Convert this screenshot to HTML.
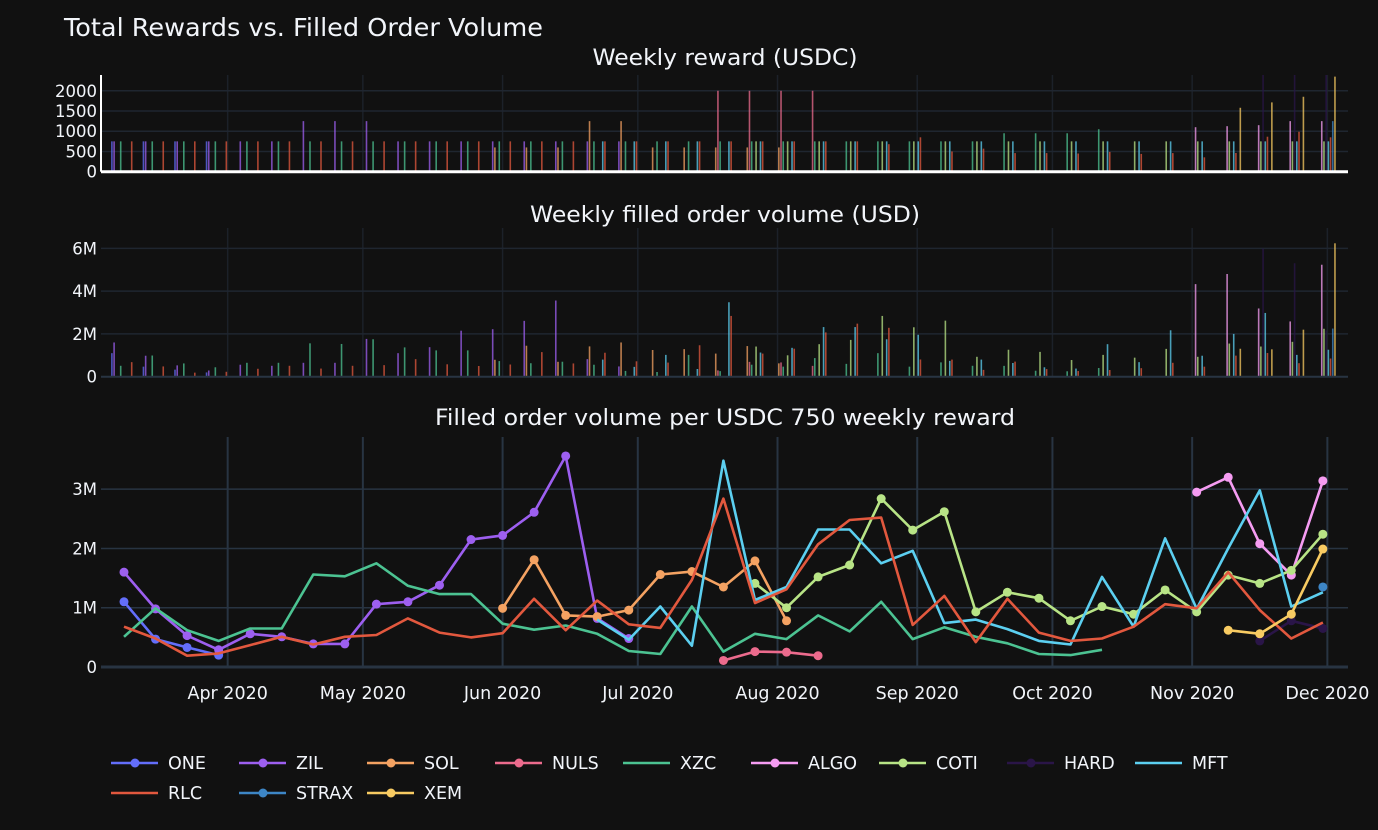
<!DOCTYPE html>
<html><head><meta charset="utf-8"><style>
html,body{margin:0;padding:0;background:#111111;}
svg{display:block;font-family:"DejaVu Sans","Liberation Sans",sans-serif;}
</style></head><body>
<svg id="chart" width="1378" height="830" xmlns="http://www.w3.org/2000/svg">
<rect width="1378" height="830" fill="#111111"/>
<text x="64" y="36" fill="#f2f5fa" font-size="25" textLength="479" lengthAdjust="spacingAndGlyphs">Total Rewards vs. Filled Order Volume</text>
<text x="725" y="65" fill="#f2f5fa" font-size="22" text-anchor="middle" textLength="265" lengthAdjust="spacingAndGlyphs">Weekly reward (USDC)</text>
<text x="725" y="222" fill="#f2f5fa" font-size="22" text-anchor="middle" textLength="390" lengthAdjust="spacingAndGlyphs">Weekly filled order volume (USD)</text>
<text x="725" y="425" fill="#f2f5fa" font-size="22" text-anchor="middle" textLength="580" lengthAdjust="spacingAndGlyphs">Filled order volume per USDC 750 weekly reward</text>
<g id="g"></g>
</svg>
<script>
const names=["ONE","ZIL","SOL","NULS","XZC","ALGO","COTI","HARD","MFT","RLC","STRAX","XEM"];
const colors=["#636efa","#9d5ff0","#f4a262","#ec6b8d","#4cc392","#f59cf2","#b8e486","#2a1548","#5ccff0","#e2583e","#3d86c6","#f8cb62"];
const hasMarker=[1,1,1,1,0,1,1,1,0,0,1,1];
const N=null;
// ratio values (M USD per 750 USDC) per week, week 0 = 2020-03-09
const rONE=[1.10,0.47,0.33,0.20];
const rZIL=[1.60,0.98,0.53,0.29,0.56,0.51,0.39,0.39,1.06,1.10,1.38,2.15,2.22,2.61,3.56,0.82,0.48];
const rSOL=[N,N,N,N,N,N,N,N,N,N,N,N,0.99,1.81,0.87,0.85,0.96,1.56,1.61,1.35,1.79,0.78];
const rNULS=[N,N,N,N,N,N,N,N,N,N,N,N,N,N,N,N,N,N,N,0.11,0.26,0.25,0.19];
const rXZC=[0.51,0.99,0.62,0.44,0.65,0.65,1.56,1.53,1.75,1.37,1.23,1.23,0.73,0.63,0.70,0.56,0.27,0.22,1.02,0.26,0.56,0.47,0.87,0.60,1.10,0.47,0.67,0.51,0.40,0.22,0.20,0.29];
const rALGO=[N,N,N,N,N,N,N,N,N,N,N,N,N,N,N,N,N,N,N,N,N,N,N,N,N,N,N,N,N,N,N,N,N,N,2.95,3.20,2.08,1.55,3.14];
const rCOTI=[N,N,N,N,N,N,N,N,N,N,N,N,N,N,N,N,N,N,N,N,1.41,1.00,1.52,1.72,2.84,2.31,2.62,0.93,1.26,1.16,0.78,1.02,0.89,1.30,0.93,1.55,1.41,1.63,2.24];
const rHARD=[N,N,N,N,N,N,N,N,N,N,N,N,N,N,N,N,N,N,N,N,N,N,N,N,N,N,N,N,N,N,N,N,N,N,N,N,0.44,0.78,0.65];
const rMFT=[N,N,N,N,N,N,N,N,N,N,N,N,N,N,N,0.80,0.46,1.02,0.36,3.48,1.13,1.35,2.32,2.32,1.75,1.96,0.74,0.80,0.64,0.44,0.38,1.52,0.68,2.17,0.98,2.00,2.98,1.02,1.26];
const rRLC=[0.68,0.48,0.19,0.23,0.37,0.51,0.38,0.51,0.54,0.82,0.58,0.50,0.57,1.15,0.62,1.12,0.72,0.66,1.47,2.84,1.08,1.31,2.07,2.48,2.52,0.71,1.20,0.42,1.15,0.58,0.44,0.48,0.68,1.06,0.99,1.60,0.96,0.48,0.75];
const rSTRAX=[N,N,N,N,N,N,N,N,N,N,N,N,N,N,N,N,N,N,N,N,N,N,N,N,N,N,N,N,N,N,N,N,N,N,N,N,N,N,1.35];
const rXEM=[N,N,N,N,N,N,N,N,N,N,N,N,N,N,N,N,N,N,N,N,N,N,N,N,N,N,N,N,N,N,N,N,N,N,N,0.62,0.56,0.89,1.99];
// weekly rewards (USDC)
const wONE=[750,750,750,750];
const wZIL=[750,750,750,750,750,750,1250,1250,1250,750,750,750,750,750,750,750,750];
const wSOL=[N,N,N,N,N,N,N,N,N,N,N,N,600,600,600,1250,1250,600,600,600,600,600];
const wNULS=[N,N,N,N,N,N,N,N,N,N,N,N,N,N,N,N,N,N,N,2000,2000,2000,2000];
const wXZC=[750,750,750,750,750,750,750,750,750,750,750,750,750,750,750,750,750,750,750,750,750,750,750,750,750,750,750,750,950,950,950,1050];
const wALGO=[N,N,N,N,N,N,N,N,N,N,N,N,N,N,N,N,N,N,N,N,N,N,N,N,N,N,N,N,N,N,N,N,N,N,1100,1125,1150,1250,1250];
const wCOTI=[N,N,N,N,N,N,N,N,N,N,N,N,N,N,N,N,N,N,N,N,750,750,750,750,750,750,750,750,750,750,750,750,750,750,750,750,750,750,750];
const wHARD=[N,N,N,N,N,N,N,N,N,N,N,N,N,N,N,N,N,N,N,N,N,N,N,N,N,N,N,N,N,N,N,N,N,N,N,N,10200,5100,2500];
const wMFT=[N,N,N,N,N,N,N,N,N,N,N,N,N,N,N,750,750,750,750,750,750,750,750,750,750,750,750,750,750,750,750,750,750,750,750,750,750,750,750];
const wRLC=[750,750,750,750,750,750,750,750,750,750,750,750,750,750,750,750,750,750,750,750,750,750,750,750,680,850,500,570,460,460,450,490,440,460,355,462,865,988,850];
const wSTRAX=[N,N,N,N,N,N,N,N,N,N,N,N,N,N,N,N,N,N,N,N,N,N,N,N,N,N,N,N,N,N,N,N,N,N,N,N,N,N,1250];
const wXEM=[N,N,N,N,N,N,N,N,N,N,N,N,N,N,N,N,N,N,N,N,N,N,N,N,N,N,N,N,N,N,N,N,N,N,N,1580,1713,1852,2350];
const ratios=[rONE,rZIL,rSOL,rNULS,rXZC,rALGO,rCOTI,rHARD,rMFT,rRLC,rSTRAX,rXEM];
const rewards=[wONE,wZIL,wSOL,wNULS,wXZC,wALGO,wCOTI,wHARD,wMFT,wRLC,wSTRAX,wXEM];
const monthLabels=["Apr 2020","May 2020","Jun 2020","Jul 2020","Aug 2020","Sep 2020","Oct 2020","Nov 2020","Dec 2020"];
const monthDays=[23,53,84,114,145,176,206,237,267]; // days from 2020-03-09
const rewardTicks=[0,500,1000,1500,2000];
const volTicks=[0,2,4,6];
const ratioTicks=[0,1,2,3];

const NS="http://www.w3.org/2000/svg";
const g=document.getElementById('g');
function el(tag,attrs,parent){const e=document.createElementNS(NS,tag);for(const k in attrs)e.setAttribute(k,attrs[k]);(parent||g).appendChild(e);return e;}
const L=101,R=1348;
const xDay=d=>124+d*4.507;
const xWeek=i=>xDay(i*7);
const panels=[{top:75,bot:171.7,max:2390},{top:228,bot:376.7,max:6.95},{top:437,bot:667,max:3.88}];
const yv=(p,v)=>p.bot-(p.bot-p.top)*v/p.max;

panels.forEach((p,pi)=>{
  monthDays.forEach(d=>{const l=el('line',{x1:xDay(d),x2:xDay(d),y1:p.top,y2:p.bot,stroke:pi==2?'#283442':'#1c2129','stroke-width':pi==2?2:1.5});
    
    });
});
function yaxis(p,ticks,fmt,name){
  ticks.forEach(t=>{const y=yv(p,t);
    if(t>0){const l=el('line',{x1:L,x2:R,y1:y,y2:y,stroke:p===panels[2]?'#283442':'#1f2630','stroke-width':1.5});
      
      }
    const tx=el('text',{x:97,y:y+6,fill:'#f2f5fa','font-size':16.5,'text-anchor':'end'});tx.textContent=fmt(t);
    
    });
}
yaxis(panels[0],rewardTicks,t=>String(t),'reward-y');
yaxis(panels[1],volTicks,t=>t===0?'0':t+'M','volume-y');
yaxis(panels[2],ratioTicks,t=>t===0?'0':t+'M','ratio-y');

const slot=2.2;
[0,1].forEach(pi=>{
  const p=panels[pi];
  const clip=el('clipPath',{id:'c'+pi});el('rect',{x:L,y:p.top,width:R-L,height:p.bot-p.top},clip);
  const bg=el('g',{'clip-path':'url(#c'+pi+')'});
  
  
  names.forEach((n,s)=>{
    rewards[s].forEach((w,i)=>{
      if(w==null)return;
      const v=pi==0?w:ratios[s][i]*w/750;
      const x=xWeek(i)-12.1+s*slot;
      const y=yv(p,v);
      const b=el('rect',{x:x-0.8,y:y,width:1.6,height:p.bot-y,fill:colors[s],opacity:0.75},bg);
      
      
    });
  });
});
el('line',{x1:L,x2:R,y1:panels[0].bot,y2:panels[0].bot,stroke:'#ffffff','stroke-width':3});
el('line',{x1:L,x2:L,y1:panels[0].top,y2:panels[0].bot,stroke:'#ffffff','stroke-width':2});
el('line',{x1:L,x2:R,y1:panels[1].bot,y2:panels[1].bot,stroke:'#283442','stroke-width':2});
el('line',{x1:L,x2:R,y1:panels[2].bot,y2:panels[2].bot,stroke:'#283442','stroke-width':3});

const p2=panels[2];
names.forEach((n,s)=>{
  const sg=el('g',{});
  
  
  let d='';let pen=false;
  ratios[s].forEach((v,i)=>{if(v==null){pen=false;return;}d+=(pen?'L':'M')+xWeek(i).toFixed(1)+','+yv(p2,v).toFixed(1);pen=true;});
  el('path',{d:d,fill:'none',stroke:colors[s],'stroke-width':2.6,'stroke-linejoin':'round'},sg);
  if(hasMarker[s])ratios[s].forEach((v,i)=>{if(v==null)return;
    const c=el('circle',{cx:xWeek(i),cy:yv(p2,v),r:4.5,fill:colors[s]},sg);
    
    });
});

monthLabels.forEach((m,k)=>{const t=el('text',{x:xDay(monthDays[k]),y:699,fill:'#f2f5fa','font-size':17.5,'text-anchor':'middle'});t.textContent=m;
  
  });

names.forEach((n,s)=>{
  const row=s<9?0:1,col=s<9?s:s-9;
  const x=111+col*128,y=row?793:763;
  const lg=el('g',{});
  
  
  el('line',{x1:x,x2:x+47,y1:y,y2:y,stroke:colors[s],'stroke-width':2.6},lg);
  if(hasMarker[s])el('circle',{cx:x+24,cy:y,r:4.5,fill:colors[s]},lg);
  const t=el('text',{x:x+57,y:y+6,fill:'#f2f5fa','font-size':17.5},lg);t.textContent=n;
});
</script>
</body></html>
